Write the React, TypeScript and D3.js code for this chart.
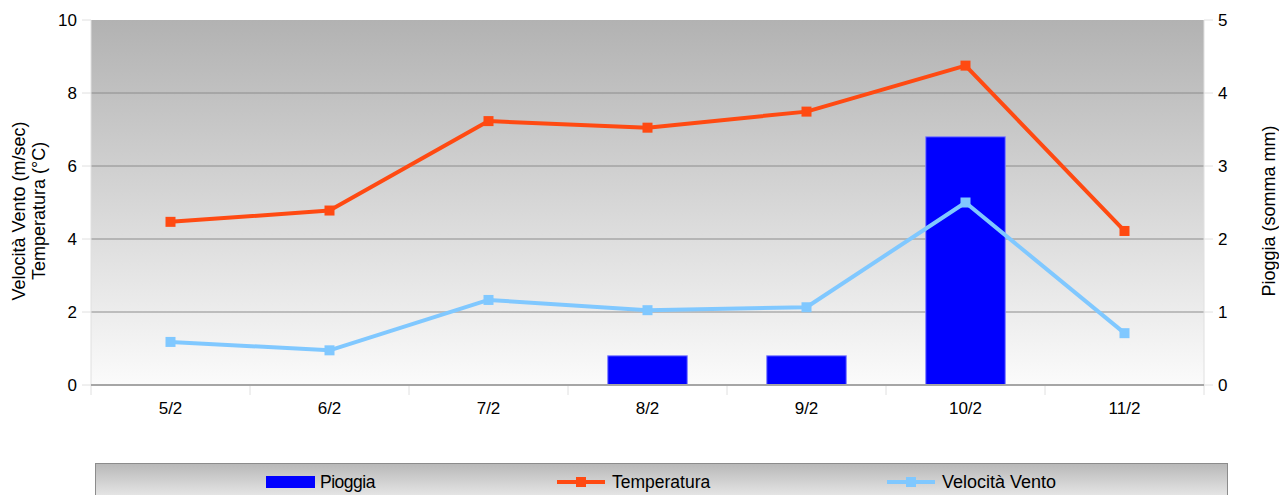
import React from "react";
import * as d3 from "d3";

const categories = ["5/2", "6/2", "7/2", "8/2", "9/2", "10/2", "11/2"];
const rain = [0, 0, 0, 0.4, 0.4, 3.4, 0];
const temperature = [4.47, 4.78, 7.23, 7.05, 7.49, 8.75, 4.22];
const wind = [1.18, 0.95, 2.33, 2.05, 2.13, 5.0, 1.42];
const leftTicks = [0, 2, 4, 6, 8, 10];
const rightTicks = [0, 1, 2, 3, 4, 5];

const W = 1279, H = 495;
const L = 91, R = 1204, T = 20, B = 385;
const font = "Liberation Sans, Arial, sans-serif";

export default function App() {
  const x = d3.scaleBand<string>().domain(categories).range([L, R]);
  const yL = d3.scaleLinear().domain([0, 10]).range([B, T]);
  const yR = d3.scaleLinear().domain([0, 5]).range([B, T]);
  const cx = (c: string) => (x(c) as number) + x.bandwidth() / 2;
  const line = d3.line<number>().x((_, i) => cx(categories[i])).y((d) => yL(d));
  const bw = x.bandwidth() / 2;
  const midY = 211;

  return (
    <svg width={W} height={H} style={{ position: "absolute", left: 0, top: 0 }} fontFamily={font}>
      <defs>
        <linearGradient id="bg" x1="0" y1="0" x2="0" y2="1">
          <stop offset="0" stopColor="#b2b2b2" />
          <stop offset="1" stopColor="#fbfbfb" />
        </linearGradient>
        <linearGradient id="lg" x1="0" y1="0" x2="0" y2="1">
          <stop offset="0" stopColor="#b8b8b8" />
          <stop offset="1" stopColor="#f0f0f0" />
        </linearGradient>
      </defs>
      <rect x={0} y={0} width={W} height={H} fill="#fff" />
      <rect x={L} y={T} width={R - L} height={B - T} fill="url(#bg)" />
      {leftTicks.filter((t) => t > 0 && t < 10).map((t) => (
        <line key={t} x1={L} x2={R} y1={yL(t)} y2={yL(t)} stroke="#8c8c8c" strokeWidth={1} />
      ))}
      <line x1={L} x2={L} y1={T} y2={B + 10} stroke="#e0e0e0" strokeWidth={1} />
      <line x1={R} x2={R} y1={T} y2={B} stroke="#e0e0e0" strokeWidth={1} />
      {leftTicks.map((t) => (
        <g key={"l" + t}>
          <line x1={L - 9} x2={L} y1={yL(t)} y2={yL(t)} stroke="#e0e0e0" />
          <text x={L - 14} y={yL(t)} dy="0.35em" textAnchor="end" fontSize={17}>{t}</text>
        </g>
      ))}
      {rightTicks.map((t) => (
        <g key={"r" + t}>
          <line x1={R} x2={R + 9} y1={yR(t)} y2={yR(t)} stroke="#e0e0e0" />
          <text x={R + 14} y={yR(t)} dy="0.35em" textAnchor="start" fontSize={17}>{t}</text>
        </g>
      ))}
      {categories.map((c, i) => (
        <g key={c}>
          {i > 0 && <line x1={x(c)} x2={x(c)} y1={B} y2={B + 10} stroke="#e0e0e0" />}
          <text x={cx(c)} y={B + 29} textAnchor="middle" fontSize={17}>{c}</text>
        </g>
      ))}
      <line x1={R} x2={R} y1={B} y2={B + 10} stroke="#e0e0e0" />
      {rain.map((v, i) => v > 0 && (
        <rect key={i} x={cx(categories[i]) - bw / 2} y={yR(v)} width={bw} height={B - yR(v)}
          fill="#0000ff" stroke="#8080ff" strokeWidth={1} />
      ))}
      <line x1={L} x2={R} y1={B} y2={B} stroke="#a6a6a6" strokeWidth={2} />
      <path d={line(wind) as string} fill="none" stroke="#80c8ff" strokeWidth={4} strokeLinejoin="round" />
      {wind.map((v, i) => (
        <rect key={i} x={cx(categories[i]) - 5} y={yL(v) - 5} width={10} height={10} fill="#80c8ff" />
      ))}
      <path d={line(temperature) as string} fill="none" stroke="#ff4a12" strokeWidth={4} strokeLinejoin="round" />
      {temperature.map((v, i) => (
        <rect key={i} x={cx(categories[i]) - 5} y={yL(v) - 5} width={10} height={10} fill="#ff4a12" />
      ))}
      <text transform={`translate(25,${midY}) rotate(-90)`} textAnchor="middle" fontSize={18}>Velocità Vento (m/sec)</text>
      <text transform={`translate(45,${midY}) rotate(-90)`} textAnchor="middle" fontSize={18}>Temperatura (°C)</text>
      <text transform={`translate(1275,${midY}) rotate(-90)`} textAnchor="middle" fontSize={18}>Pioggia (somma mm)</text>
      <rect x={95.5} y={463.5} width={1132} height={40} fill="url(#lg)" stroke="#8c8c8c" />
      <rect x={266} y={476} width={49} height={12} fill="#0000ff" />
      <text x={320} y={482} dy="0.35em" fontSize={17.5} letterSpacing={-0.5}>Pioggia</text>
      <line x1={557} x2={605} y1={482} y2={482} stroke="#ff4a12" strokeWidth={4} />
      <rect x={576} y={477} width={10} height={10} fill="#ff4a12" />
      <text x={612} y={482} dy="0.35em" fontSize={17.5}>Temperatura</text>
      <line x1={887} x2={935} y1={482} y2={482} stroke="#80c8ff" strokeWidth={4} />
      <rect x={906} y={477} width={10} height={10} fill="#80c8ff" />
      <text x={942} y={482} dy="0.35em" fontSize={18}>Velocità Vento</text>
    </svg>
  );
}
